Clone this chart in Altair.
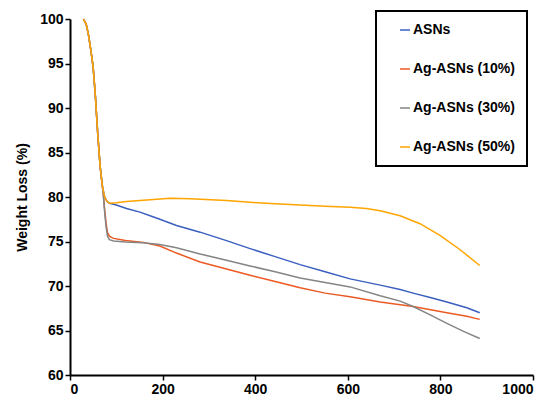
import altair as alt
import pandas as pd

series_names = ["ASNs", "Ag-ASNs (10%)", "Ag-ASNs (30%)", "Ag-ASNs (50%)"]
colors = ["#3A5FBF", "#EB5A23", "#858585", "#FFA500"]

drop_t = [29, 35, 40, 45, 50, 55, 60, 65, 70]
drop_w = [100, 99.4, 98.2, 96.5, 94.6, 91.2, 87.0, 83.5, 81.2]

asn_t = [75, 80, 85, 100, 122, 151, 173, 194, 230, 281, 338, 389, 443, 497, 551, 605, 670, 713, 741, 778, 814, 857, 885]
asn_w = [80.0, 79.5, 79.3, 79.1, 78.7, 78.3, 77.9, 77.5, 76.8, 76.05, 75.1, 74.2, 73.3, 72.4, 71.6, 70.8, 70.1, 69.6, 69.2, 68.7, 68.2, 67.55, 67.0]

ag10_t = [72, 75, 78, 81, 85, 94, 120, 158, 194, 230, 281, 338, 389, 443, 497, 551, 605, 670, 741, 814, 857, 885]
ag10_w = [80.3, 78.5, 77.0, 76.0, 75.6, 75.35, 75.1, 74.9, 74.5, 73.7, 72.7, 71.9, 71.2, 70.5, 69.8, 69.2, 68.8, 68.2, 67.7, 67.0, 66.6, 66.25]

ag30_t = [72, 75, 78, 81, 85, 94, 120, 158, 194, 230, 281, 338, 389, 443, 497, 551, 605, 670, 713, 741, 778, 814, 850, 885]
ag30_w = [80.2, 78.2, 76.6, 75.6, 75.2, 75.05, 74.95, 74.85, 74.65, 74.3, 73.6, 72.9, 72.25, 71.6, 70.9, 70.4, 69.9, 68.9, 68.3, 67.7, 66.75, 65.8, 64.9, 64.1]

ag50_t = [75, 80, 85, 100, 122, 173, 216, 260, 338, 389, 443, 497, 551, 605, 640, 670, 713, 756, 799, 842, 885]
ag50_w = [80.0, 79.5, 79.3, 79.35, 79.5, 79.7, 79.85, 79.8, 79.6, 79.4, 79.25, 79.1, 78.95, 78.85, 78.7, 78.45, 77.9, 77.0, 75.7, 74.1, 72.3]

rows = []
for name, ts, ws in [
    (series_names[0], asn_t, asn_w),
    (series_names[1], ag10_t, ag10_w),
    (series_names[2], ag30_t, ag30_w),
    (series_names[3], ag50_t, ag50_w),
]:
    for t, w in zip(drop_t + ts, drop_w + ws):
        rows.append({"T": t, "W": w, "Series": name})
df = pd.DataFrame(rows)

font = "Liberation Sans"

chart = alt.Chart(df).mark_line(strokeWidth=1.5).encode(
    x=alt.X("T:Q", scale=alt.Scale(domain=[0, 1000], nice=False),
            axis=alt.Axis(values=[0, 200, 400, 600, 800, 1000], format="d", title=None)),
    y=alt.Y("W:Q", scale=alt.Scale(domain=[60, 100], nice=False, zero=False),
            axis=alt.Axis(values=[60, 65, 70, 75, 80, 85, 90, 95, 100], format="d",
                          title="Weight Loss (%)", titlePadding=10)),
    color=alt.Color("Series:N", scale=alt.Scale(domain=series_names, range=colors),
                    legend=alt.Legend(title=None, orient="none", legendX=306, legendY=-8,
                                      symbolType="stroke", symbolStrokeWidth=1.5, symbolSize=100,
                                      labelFontSize=14, labelFontWeight="bold", labelFont=font,
                                      labelColor="black", rowPadding=25, padding=12,
                                      strokeColor="black", symbolOffset=10,
                                      labelOffset=1)),
    order=alt.Order("T:Q"),
).properties(
    width=463, height=356,
    autosize=alt.AutoSizeParams(type="none"),
    padding={"left": 62, "top": 11, "right": 10, "bottom": 25},
).configure_axis(
    domainColor="black", domainWidth=2, tickColor="black", tickWidth=1.5, tickSize=5,
    labelFont=font, labelFontSize=14, labelFontWeight="bold", labelColor="black",
    titleFont=font, titleFontSize=14, titleFontWeight="bold", titleColor="black",
    grid=False, labelPadding=2,
).configure_view(stroke=None).configure_legend(strokeWidth=2)

chart.save("out.html", embed_options={"renderer": "svg", "actions": False})
